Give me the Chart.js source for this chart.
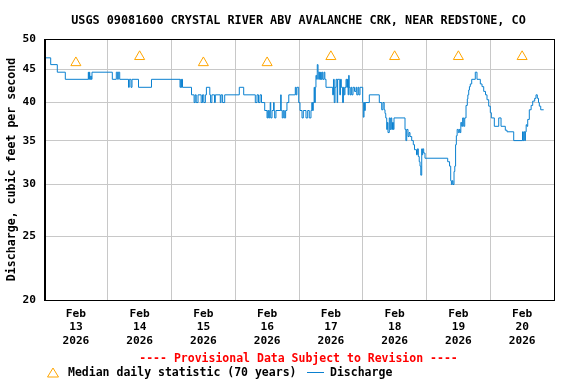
<!DOCTYPE html>
<html>
<head>
<meta charset="utf-8">
<script src="https://cdn.jsdelivr.net/npm/chart.js@4"></script>
<style>
  html, body { margin: 0; padding: 0; background: #fff; }
  canvas { display: block; }
</style>
</head>
<body>
<canvas id="chart" width="576" height="384"></canvas>
<script>

const chartTitle = "USGS 09081600 CRYSTAL RIVER ABV AVALANCHE CRK, NEAR REDSTONE, CO";
const yTitle = "Discharge, cubic feet per second";
const provisional = "---- Provisional Data Subject to Revision ----";
const medianLabel = "Median daily statistic (70 years)";
const dischargeLabel = "Discharge";

const month = "Feb";
const year = "2026";
const dayLabels = ["13", "14", "15", "16", "17", "18", "19", "20"];
const yTicks = [20, 25, 30, 35, 40, 45, 50];

// hours since Feb 13 00:00
const medianHours = [12, 36, 60, 84, 108, 132, 156, 180];
const medianValues = [46, 47, 46, 46, 47, 47, 47, 47];

const hours = [
    0, 2.52, 5.01, 8.02, 16.68, 16.85, 17.05, 17.24, 17.58, 17.81, 18.07,
    25.72, 27.22, 27.74, 27.97, 28.50, 31.81, 32.10, 32.75, 33.13, 35.58, 40.47,
    51.20, 51.49, 51.69, 51.89, 52.14, 55.53, 56.51, 56.91, 57.30, 57.99, 59.17, 59.66,
    60.16, 60.75, 61.14, 62.42, 62.71, 63.21, 64.19, 64.49, 66.36, 66.65, 67.24, 68.03,
    73.52, 75.18, 79.55, 80.19, 80.75, 81.32, 81.88, 83.09, 83.96, 84.27, 84.59,
    84.96, 85.16, 85.36, 85.85, 86.44, 86.64, 86.83, 87.32, 89.10, 89.29, 89.69, 90.08,
    90.47, 90.97, 91.46, 92.15, 94.61, 94.90, 95.20, 95.89, 96.38, 97.13, 97.62,
    98.63, 99.27, 99.87, 100.51, 100.81, 101.10, 101.38, 101.69, 101.89,
    102.14, 102.38, 102.66, 102.88, 103.17, 103.42, 103.66, 103.91, 104.16,
    104.35, 104.65, 104.94, 105.42, 105.73, 106.16, 108.68, 108.98, 109.27, 109.57,
    109.96, 110.36, 110.55, 111.34, 111.64, 111.93, 112.42, 112.72, 113.01, 113.31,
    113.70, 114.00, 114.25, 114.49, 114.71, 114.88, 115.20, 115.57, 115.87,
    116.33, 116.89, 117.47, 117.74, 118.21, 118.53, 118.97, 119.98, 120.20,
    120.48, 120.69, 120.96, 122.47, 126.23, 127.14, 127.62, 128.07, 128.38,
    128.66, 129.02, 129.26, 129.50, 129.99, 130.34, 130.63, 130.93, 131.20,
    131.52, 131.77, 135.91, 136.24, 136.55, 137.03, 137.42, 137.79, 138.43,
    139.03, 139.49, 140.24, 140.57, 140.92, 141.26, 141.56, 141.85, 142.20,
    142.35, 142.57, 142.94, 143.44, 151.98, 152.68, 153.11, 153.37, 153.67,
    153.96, 154.36, 154.65, 154.95, 155.24, 155.54, 155.97, 156.33, 156.62, 156.92,
    157.25, 157.61, 158.01, 158.39, 158.88, 159.36, 159.57, 159.89, 160.16,
    160.49, 161.02, 162.37, 163.01, 164.26, 164.90, 165.54, 166.22, 166.78,
    167.42, 168.02, 168.41, 169.53, 171.19, 172.06, 173.67, 174.31, 176.83,
    180.15, 180.44, 180.74, 181.03, 181.23, 181.52, 181.82, 182.10, 182.70, 183.39,
    183.98, 184.73, 185.22, 185.72, 186.16, 186.47, 187.00, 188.12
];

const discharge = [
    46.8, 45.7, 44.5, 43.4, 44.5, 43.4, 44.5, 43.4, 43.9, 43.4, 44.5,
    43.4, 44.5, 43.4, 44.5, 43.4, 42.2, 43.4, 42.2, 43.4, 42.2, 43.4,
    42.2, 43.4, 42.2, 43.4, 42.2, 41.1, 40.0, 41.1, 40.0, 41.1, 40.0, 41.1,
    40.0, 41.1, 42.2, 41.1, 40.0, 41.1, 40.0, 41.1, 40.0, 41.1, 40.0, 41.1,
    42.2, 41.1, 40.0, 41.1, 40.0, 41.1, 40.0, 38.9, 37.9, 38.9, 37.9,
    38.9, 40.0, 37.9, 38.9, 40.0, 38.9, 37.9, 38.9, 41.1, 38.9, 37.9, 38.9,
    37.9, 38.9, 40.0, 41.1, 42.2, 41.1, 42.2, 40.0, 38.9, 37.9, 38.9,
    37.9, 38.9, 37.9, 38.9, 40.0, 38.9, 40.0, 42.2, 40.0,
    42.2, 44.0, 43.4, 45.7, 44.5, 43.4, 44.5, 43.4, 44.5,
    43.4, 44.5, 43.4, 44.5, 43.4, 42.2, 41.1, 43.4, 40.0, 42.2,
    43.4, 40.0, 43.4, 41.1, 43.4, 42.2, 40.0, 42.2, 41.1, 42.2,
    43.4, 42.2, 43.4, 41.1, 44.0, 42.2, 41.1, 42.2, 41.1,
    42.2, 41.6, 42.2, 41.1, 42.2, 41.1, 42.2, 40.0, 38.0,
    40.0, 38.9, 40.0, 41.1, 40.0, 39.0, 40.0, 39.0, 38.5,
    37.9, 36.4, 37.3, 36.0, 37.9, 36.4, 37.9, 36.4, 37.3,
    36.4, 37.9, 36.4, 35.0, 36.4, 35.5, 36.0, 35.5, 35.0,
    34.5, 33.9, 33.3, 34.0, 33.1, 32.5, 32.0, 31.0, 34.0,
    33.3, 34.0, 33.5, 32.9, 32.5, 32.0, 30.4, 30.0, 30.4,
    30.0, 31.4, 32.0, 34.5, 35.6, 36.4, 36.0, 36.4, 36.0, 37.3,
    36.8, 37.9, 36.8, 37.9, 39.6, 40.5, 41.1, 41.8, 42.3,
    42.7, 43.4, 44.5, 43.4, 42.7, 42.3, 41.6, 41.1, 40.4,
    39.5, 38.6, 37.9, 36.8, 37.9, 36.8, 36.3, 36.1, 35.0,
    36.1, 35.0, 36.1, 35.0, 36.1, 37.0, 36.8, 37.7, 39.0, 39.6,
    40.2, 40.6, 41.1, 40.6, 40.0, 39.5, 39.0, 39.0
];

const gridColor = "#c8c8c8";
const lineColor = "#0a80d0";
const medianColor = "#ffa500";
const fontFamily = "'DejaVu Sans Mono', monospace";

Chart.defaults.font.family = fontFamily;
Chart.defaults.font.size = 11.2;
Chart.defaults.font.weight = "bold";
Chart.defaults.color = "#000";

// box around the plot, title, provisional note and legend
const frame = {
    id: "frame",
    afterDraw(chart) {
        const { ctx, chartArea: a } = chart;
        ctx.save();

        ctx.strokeStyle = "#000";
        ctx.lineWidth = 1;
        ctx.strokeRect(a.left + 0.5, a.top + 0.5, a.right - a.left, a.bottom - a.top);
        ctx.fillStyle = "#000";
        ctx.fillRect(a.left, a.top, 2, a.bottom - a.top + 1);

        ctx.textAlign = "center";
        ctx.textBaseline = "middle";
        ctx.font = "bold 11.8px " + fontFamily;
        ctx.fillText(chartTitle, 298.5, 20.5);

        ctx.font = "bold 11.5px " + fontFamily;
        ctx.fillStyle = "#ff0000";
        ctx.fillText(provisional, 298.5, 359);

        ctx.textAlign = "left";
        ctx.fillStyle = "#000";
        ctx.fillText(medianLabel, 68, 373);
        ctx.fillText(dischargeLabel, 330, 373);

        ctx.strokeStyle = medianColor;
        ctx.beginPath();
        ctx.moveTo(53, 368);
        ctx.lineTo(58.5, 377);
        ctx.lineTo(47.5, 377);
        ctx.closePath();
        ctx.stroke();

        ctx.strokeStyle = lineColor;
        ctx.beginPath();
        ctx.moveTo(307, 372.5);
        ctx.lineTo(324, 372.5);
        ctx.stroke();

        ctx.restore();
    }
};

new Chart(document.getElementById("chart"), {

    type: "line",

    data: {
        datasets: [
            {
                label: dischargeLabel,
                data: hours.map((h, i) => ({ x: h, y: discharge[i] })),
                borderColor: lineColor,
                borderWidth: 1,
                pointRadius: 0,
                stepped: true,
                fill: false
            },
            {
                label: medianLabel,
                data: medianHours.map((h, i) => ({ x: h, y: medianValues[i] })),
                showLine: false,
                pointStyle: "triangle",
                pointRadius: 5.8,
                borderColor: medianColor,
                backgroundColor: "rgba(0,0,0,0)",
                borderWidth: 1
            }
        ]
    },

    options: {
        responsive: false,
        animation: false,
        devicePixelRatio: 1,
        layout: { padding: { top: 39, right: 22, bottom: 0, left: 0 } },
        plugins: {
            legend: { display: false },
            tooltip: { enabled: false }
        },
        scales: {
            x: {
                type: "linear",
                min: 0,
                max: 192,
                afterFit(scale) { scale.height = 84; },
                afterBuildTicks(scale) {
                    const ticks = [];
                    for (let v = 0; v <= 192; v += 12) ticks.push({ value: v });
                    scale.ticks = ticks;
                },
                grid: {
                    color: (c) => (c.tick && c.tick.value % 24 === 0) ? gridColor : "rgba(0,0,0,0)",
                    drawTicks: false
                },
                border: { display: false },
                ticks: {
                    autoSkip: false,
                    maxRotation: 0,
                    padding: 7,
                    callback: (v) => {
                        if (v % 24 !== 12) return "";
                        return [month, dayLabels[(v - 12) / 24], year];
                    }
                }
            },
            y: {
                type: "logarithmic",
                min: 20,
                max: 50,
                afterFit(scale) { scale.width = 44; },
                afterBuildTicks(scale) {
                    scale.ticks = yTicks.map((v) => ({ value: v }));
                },
                grid: { color: gridColor, drawTicks: false },
                border: { display: false },
                ticks: {
                    padding: 8,
                    callback: (v) => String(v)
                },
                title: {
                    display: true,
                    text: yTitle,
                    padding: { top: 5, bottom: 0 },
                    font: { size: 11.6, weight: "bold" }
                }
            }
        }
    },

    plugins: [frame]

});

</script>
</body>
</html>
